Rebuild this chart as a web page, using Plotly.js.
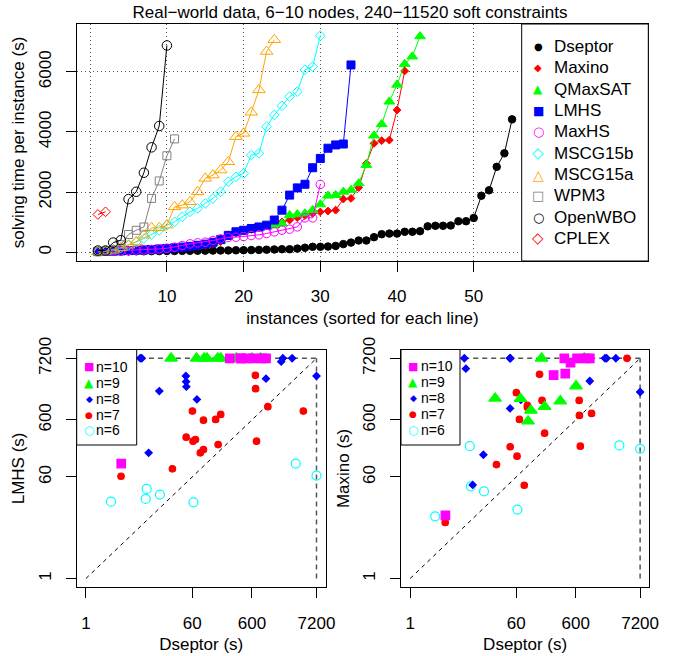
<!DOCTYPE html>
<html><head><meta charset="utf-8">
<script src="https://cdn.plot.ly/plotly-3.0.1.min.js"></script>
<style>html,body{margin:0;padding:0;background:#fff}#chart{width:678px;height:656px}</style>
</head><body><div id="chart"></div>
<script>
// ================= DATA =================
const chartTitle = 'Real\u2212world data, 6\u221210 nodes, 240\u221211520 soft constraints';
const solverNames = ['Dseptor','Maxino','QMaxSAT','LMHS','MaxHS','MSCG15b','MSCG15a','WPM3','OpenWBO','CPLEX'];

// solving time per instance (s), sorted for each solver
const dseptorSorted = [15,18,22,25,28,30,32,35,38,40,42,45,47,50,52,55,58,60,64,68,72,78,85,92,
  100,100,120,150,180,180,190,210,270,320,390,390,500,600,620,620,680,680,700,860,880,880,890,1030,1030,1140,1880,2060,2840,3290,4420];
const maxinoSorted = [15,22,30,38,46,55,65,78,92,108,125,145,170,200,235,280,350,580,640,700,760,820,880,950,
  1010,1070,1150,1220,1290,1340,1370,1400,1770,1790,2150,2950,3620,3710,3730,4730,6030];
const qmaxsatSorted = [15,22,30,40,50,60,72,85,100,118,138,160,185,215,250,300,380,540,640,700,760,800,850,900,
  950,1230,1260,1290,1400,1590,1880,1900,2010,2070,2290,2900,3880,4260,5010,5570,6260,6510,7180];
const lmhsSorted = [20,28,36,45,55,65,78,92,108,125,145,168,195,230,270,330,420,560,680,730,790,840,900,1070,
  1400,1900,2140,2260,2810,3120,3460,3570,3600,6230];
const maxhsSorted = [20,30,38,45,55,67,78,89,111,133,167,222,278,311,333,389,444,490,500,522,556,578,622,678,733,767,844,1144,1144,2256];
const mscg15bSorted = [33,56,100,144,233,344,456,589,733,900,1011,1178,1344,1456,1622,1789,2011,2344,2511,2622,3233,3289,4178,4567,4870,5178,5344,6067,6178,7200];
const mscg15aSorted = [11,33,67,144,233,344,567,811,811,900,1511,1567,1678,2011,2456,2567,2733,3011,3844,3956,4656,5400,6678,7067];
const wpm3Sorted = [20,40,80,250,590,730,840,1790,2370,3210,3770];
const openwboSorted = [56,56,322,400,1767,2011,2644,3489,4200,6878];
const cplexSorted = [1256,1344];
const solverSeries = [dseptorSorted, maxinoSorted, qmaxsatSorted, lmhsSorted, maxhsSorted,
  mscg15bSorted, mscg15aSorted, wpm3Sorted, openwboSorted, cplexSorted];

const instanceTicks = [10,20,30,40,50];
const instanceGrid = [0];
const timeTicks = [0,2000,4000,6000];

// per-instance comparison, grouped by number of nodes
const nodeGroups = ['n=10','n=9','n=8','n=7','n=6'];
const n10Dseptor = [3.9,255,385,400,490,630,880,1030];
const n10Lmhs    = [103,7200,7200,7200,7200,7200,7200,7200];
const n10Maxino  = [12.8,3660,7200,3875,6040,7200,7200,7200];
const n9Dseptor  = [26.6,71,95,106,160,180,330,605,830];
const n9Lmhs     = [7200,7200,7200,7200,7200,7200,7200,7200,7200];
const n9Maxino   = [1430,1410,571,879,7200,1021,1282,2350,7200];
const n8Dseptor  = [8.1,8.6,11.2,16.9,47,47.5,48,72,1030,1850,1970,2820,7200];
const n8Lmhs     = [7200,7200,159,1918,3518,2806,2293,1371,3166,6290,7200,7200,3518];
const n8Maxino   = [7200,4746,43.6,147,7200,953,7200,1350,2875,7200,7200,7200,1845];
const n7Dseptor  = [3.87,28,47.6,60.5,62,68,82,92.6,92.6,148,163,180,684,690,715,1105,4340];
const n7Lmhs     = [61.8,83.3,299,855,254,272,159,181,594,611,222,748,3623,2113,254,1021,855];
const n7Maxino   = [9.6,99,203,1798,139,611,43,1000,1077,3770,1318,351,1318,718,208,778,7200];
const n6Dseptor  = [2.63,10.0,10.4,17.3,63,3230,7200];
const n6Lmhs     = [22.2,24.8,37.1,29.5,21.6,103,63.5];
const n6Maxino   = [12.3,208,41.2,33.7,16.1,214,187];
const groupDseptor = [n10Dseptor,n9Dseptor,n8Dseptor,n7Dseptor,n6Dseptor];
const groupLmhs    = [n10Lmhs,n9Lmhs,n8Lmhs,n7Lmhs,n6Lmhs];
const groupMaxino  = [n10Maxino,n9Maxino,n8Maxino,n7Maxino,n6Maxino];

const logTicks = [1,60,600,7200];
const timeLimit = 7200;
const minTime = 1;

// ================= STYLES / LAYOUT =================
const W = 678, H = 656;
const fx = p => p / W;
const fy = p => 1 - p / H;
const FONT = 'Liberation Sans, Arial, Helvetica, sans-serif';
const SYMF = 'DejaVu Sans, sans-serif';

const solverStyles = [
  {color:'#000000', symbol:'circle', size:7.5, glyph:'\u25CF', gsize:10},
  {color:'#FF0000', symbol:'diamond', size:6, glyph:'\u25C6', gsize:10},
  {color:'#00FF00', symbol:'triangle-up', size:9.5, glyph:'\u25B2', gsize:12},
  {color:'#0000FF', symbol:'square', size:8, glyph:'\u25A0', gsize:12},
  {color:'#FF00FF', symbol:'circle-open', size:8.5, glyph:'\u25CB', gsize:13},
  {color:'#00FFFF', symbol:'diamond-open', size:7.5, glyph:'\u25C7', gsize:15},
  {color:'#FFA500', symbol:'triangle-up-open', size:11, glyph:'\u25B3', gsize:14},
  {color:'#808080', symbol:'square-open', size:8, glyph:'\u25A1', gsize:13},
  {color:'#000000', symbol:'circle-open', size:9.5, glyph:'\u25CB', gsize:13},
  {color:'#FF0000', symbol:'diamond-open', size:7.5, glyph:'\u25C7', gsize:15}
];
const groupStyles = [
  {color:'#FF00FF', symbol:'square', size:8.5, glyph:'\u25A0', gsize:11},
  {color:'#00FF00', symbol:'triangle-up', size:11, glyph:'\u25B2', gsize:12},
  {color:'#0000FF', symbol:'diamond', size:5.5, glyph:'\u25C6', gsize:9},
  {color:'#FF0000', symbol:'circle', size:6.5, glyph:'\u25CF', gsize:9},
  {color:'#00FFFF', symbol:'circle-open', size:9, glyph:'\u25CB', gsize:12}
];

const traces = [];
solverSeries.forEach((vals, k) => {
  const st = solverStyles[k];
  traces.push({
    type:'scatter', mode:'lines+markers', name: solverNames[k], showlegend:false,
    x: vals.map((_, i) => i + 1), y: vals, xaxis:'x', yaxis:'y',
    line:{color:st.color, width:1},
    marker:{symbol:st.symbol, size:st.size, color:st.color, line:{color:st.color, width:1}}
  });
});
for (let g = nodeGroups.length - 1; g >= 0; g--) {
  const st = groupStyles[g];
  const mk = {symbol:st.symbol, size:st.size, color:st.color, line:{color:st.color, width:1.2}};
  traces.push({type:'scatter', mode:'markers', name:nodeGroups[g], showlegend:false,
    x:groupDseptor[g], y:groupLmhs[g], xaxis:'x2', yaxis:'y2', marker:mk});
  traces.push({type:'scatter', mode:'markers', name:nodeGroups[g], showlegend:false,
    x:groupDseptor[g], y:groupMaxino[g], xaxis:'x3', yaxis:'y3', marker:mk});
}

const axBase = {showline:true, mirror:true, linecolor:'#000', linewidth:1, ticks:'outside',
  ticklen:10, tickcolor:'#000', tickfont:{family:FONT, size:17, color:'#000'}, zeroline:false};
const titleFont = {family:FONT, size:17, color:'#000'};
const logRange = [Math.log10(minTime) - 0.154, Math.log10(timeLimit) + 0.154];

const layout = {
  width:W, height:H, margin:{l:0, r:0, t:0, b:0}, paper_bgcolor:'#fff', plot_bgcolor:'#fff',
  showlegend:false, font:{family:FONT, color:'#000'},
  title:{text:chartTitle, x:fx(350), xanchor:'center', y:fy(12), yanchor:'middle', font:{family:FONT, size:17, color:'#000'}},
  xaxis:Object.assign({}, axBase, {domain:[fx(76.7), fx(648.3)], anchor:'y', range:[-1.76, 72.76],
    tickvals:instanceTicks, showgrid:true, gridcolor:'#555', griddash:'1px,3px', gridwidth:1,
    minor:{tickvals:instanceGrid, showgrid:true, gridcolor:'#555', griddash:'1px,3px', gridwidth:1, ticks:''},
    ticklabelstandoff:10, title:{text:'instances (sorted for each line)', font:titleFont, standoff:6}}),
  yaxis:Object.assign({}, axBase, {domain:[fy(261), fy(24)], anchor:'x', range:[-292, 7592],
    tickvals:timeTicks, tickangle:-90, showgrid:true, gridcolor:'#555', griddash:'1px,3px', gridwidth:1,
    ticklabelstandoff:8, title:{text:'solving time per instance (s)', font:titleFont, standoff:6}}),
  xaxis2:Object.assign({}, axBase, {type:'log', domain:[fx(76.7), fx(325.7)], anchor:'y2', range:logRange,
    tickvals:logTicks, ticktext:logTicks.map(String), showgrid:false, ticklabelstandoff:10,
    title:{text:'Dseptor (s)', font:titleFont, standoff:6}}),
  yaxis2:Object.assign({}, axBase, {type:'log', domain:[fy(587.3), fy(349.5)], anchor:'x2', range:logRange,
    tickvals:logTicks, ticktext:logTicks.map(String), tickangle:-90, showgrid:false, ticklabelstandoff:8,
    title:{text:'LMHS (s)', font:titleFont, standoff:6}}),
  xaxis3:Object.assign({}, axBase, {type:'log', domain:[fx(401), fx(649.3)], anchor:'y3', range:logRange,
    tickvals:logTicks, ticktext:logTicks.map(String), showgrid:false, ticklabelstandoff:10,
    title:{text:'Dseptor (s)', font:titleFont, standoff:6}}),
  yaxis3:Object.assign({}, axBase, {type:'log', domain:[fy(587.3), fy(349.5)], anchor:'x3', range:logRange,
    tickvals:logTicks, ticktext:logTicks.map(String), tickangle:-90, showgrid:false, ticklabelstandoff:8,
    title:{text:'Maxino (s)', font:titleFont, standoff:6}}),
  shapes:[], annotations:[]
};

// reference lines in the scatter panels
[['x2','y2'],['x3','y3']].forEach(([xr, yr]) => {
  layout.shapes.push({type:'line', xref:xr, yref:yr, x0:minTime, y0:minTime, x1:timeLimit, y1:timeLimit,
    line:{color:'#000', width:1, dash:'4px,4px'}, layer:'below'});
  layout.shapes.push({type:'line', xref:xr, yref:yr, x0:minTime, y0:timeLimit, x1:timeLimit, y1:timeLimit,
    line:{color:'#555', width:1.5, dash:'5px,4px'}, layer:'below'});
  layout.shapes.push({type:'line', xref:xr, yref:yr, x0:timeLimit, y0:minTime, x1:timeLimit, y1:timeLimit,
    line:{color:'#555', width:1.5, dash:'5px,4px'}, layer:'below'});
});

// legends
function addLegend(box, names, styles, rowY0, rowDy, symX, txtX, fsize) {
  layout.shapes.push({type:'rect', xref:'paper', yref:'paper', x0:fx(box[0]), x1:fx(box[1]),
    y0:fy(box[3]), y1:fy(box[2]), fillcolor:'#fff', line:{color:'#000', width:1}, layer:'above'});
  names.forEach((nm, k) => {
    const y = fy(rowY0 + k * rowDy);
    const st = styles[k];
    layout.annotations.push({xref:'paper', yref:'paper', x:fx(symX), y:y, xanchor:'center', yanchor:'middle',
      text:st.glyph, showarrow:false, font:{family:SYMF, size:st.gsize, color:st.color}, borderpad:0});
    layout.annotations.push({xref:'paper', yref:'paper', x:fx(txtX), y:y, xanchor:'left', yanchor:'middle',
      text:nm, showarrow:false, font:{family:FONT, size:fsize, color:'#000'}, borderpad:0});
  });
}
addLegend([521.7, 648.3, 24, 261], solverNames, solverStyles, 46.7, 21.3, 538, 553, 17);
addLegend([76.7, 136.7, 349.5, 445], nodeGroups, groupStyles, 366.8, 15.9, 89.3, 95, 14);
addLegend([401, 460, 349.5, 445], nodeGroups, groupStyles, 366.3, 15.9, 413, 419.5, 14);

Plotly.newPlot('chart', traces, layout, {staticPlot:true, displayModeBar:false});
</script></body></html>
